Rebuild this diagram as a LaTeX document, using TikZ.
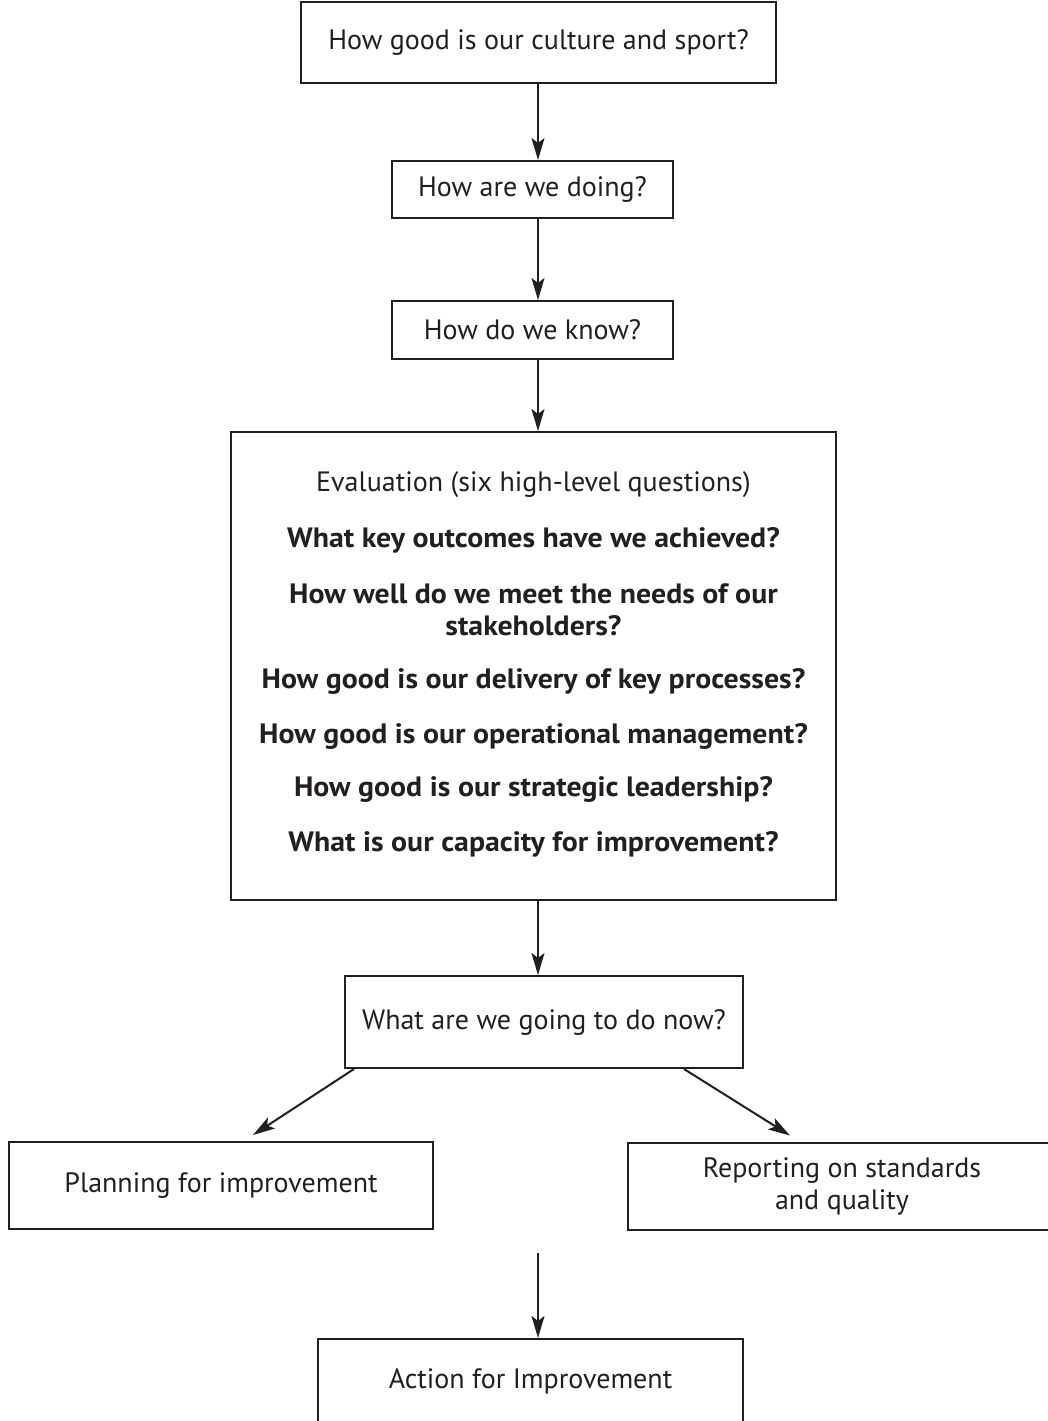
\documentclass[tikz,border=0pt]{standalone}
\usepackage{fontspec}
\setmainfont{PT Sans}
\newfontfamily\wideboldfont[FakeStretch=1.065]{PT Sans Bold}
\usetikzlibrary{arrows.meta,calc}
\definecolor{ink}{HTML}{231F20}
\begin{document}
\begin{tikzpicture}[x=1pt,y=-1pt,
  box/.style={draw=ink,line width=2pt,inner sep=0pt,text=ink,font=\fontsize{28}{32}\selectfont},
  txt/.style={inner sep=0pt,text=ink,font=\fontsize{28}{32}\selectfont,align=center},
  btxt/.style={inner sep=0pt,text=ink,font=\wideboldfont\fontsize{28}{32}\selectfont,align=center},
  conn/.style={draw=ink,line width=2pt,-{Stealth[length=22pt,width=13pt,inset=5pt]}}]
\useasboundingbox (0,0) rectangle (1048,1421);
\clip (0,0) rectangle (1048,1421);
\node[box,minimum width=475pt,minimum height=81pt] (b1) at (538.5,42.5) {How good is our culture and sport?};
\node[box,minimum width=281pt,minimum height=57pt] (b2) at (532.5,189.5) {How are we doing?};
\node[box,minimum width=281pt,minimum height=58pt] (b3) at (532.5,330) {How do we know?};
\node[box,minimum width=605pt,minimum height=468pt] (b4) at (533.5,666) {};
\node[txt] (t0) at (533.5,485) {Evaluation (six high-level questions)};
\node[btxt] (t1) at (533.5,540) {What key outcomes have we achieved?};
\node[btxt] (t2) at (533.5,610) {How well do we meet the needs of our\\stakeholders?};
\node[btxt] (t3) at (533.5,681) {How good is our delivery of key processes?};
\node[btxt] (t4) at (533.5,736) {How good is our operational management?};
\node[btxt] (t5) at (533.5,789) {How good is our strategic leadership?};
\node[btxt] (t6) at (533.5,844) {What is our capacity for improvement?};
\node[box,minimum width=398pt,minimum height=92pt] (b5) at (544,1022) {What are we going to do now?};
\node[box,minimum width=424pt,minimum height=87pt] (b6) at (221,1185.5) {Planning for improvement};
\node[box,minimum width=428pt,minimum height=87pt,align=center] (b7) at (842,1186) {Reporting on standards\\and quality};
\node[box,minimum width=425pt,minimum height=92pt] (b8) at (530.5,1385) {};
\node[txt] (t8) at (530.5,1381) {Action for Improvement};
\coordinate (gap) at (538,1253);
\draw[conn] (b1.south -| gap) -- (b2.north -| gap);
\draw[conn] (b2.south -| gap) -- (b3.north -| gap);
\draw[conn] (b3.south -| gap) -- (b4.north -| gap);
\draw[conn] (b4.south -| gap) -- (b5.north -| gap);
\draw[conn] ([xshift=10pt]b5.south west) -- ([xshift=32pt,yshift=6pt]b6.north);
\draw[conn] ([xshift=-60pt]b5.south east) -- ([xshift=163pt,yshift=6pt]b7.north west);
\draw[conn] (gap) -- (b8.north -| gap);
\end{tikzpicture}
\end{document}
